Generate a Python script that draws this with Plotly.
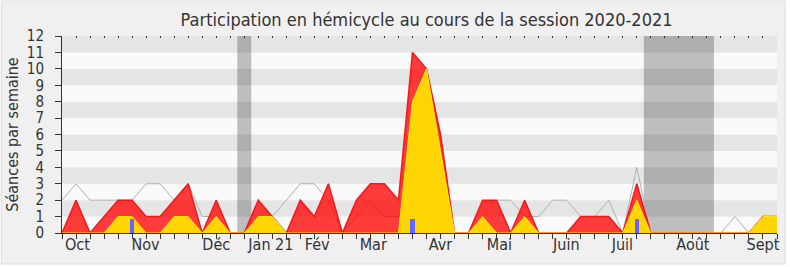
import plotly.graph_objects as go

# ---- data (one value per week, Sept 2020 -> Sept 2021) ----
weeks = list(range(52))
presences = [0, 2, 0, 1, 2, 2, 1, 1, 2, 3, 0, 2, 0, 0, 2, 1, 0, 2, 1, 3,
             0, 2, 3, 3, 2, 11, 10, 6, 0, 0, 2, 2, 0, 2, 0, 0, 0, 1, 1, 1,
             0, 3, 0, 0, 0, 0, 0, 0, 0, 0, 1, 1]
interventions = [0, 0, 0, 0, 1, 1, 0, 0, 1, 1, 0, 1, 0, 0, 1, 1, 0, 0, 0, 0,
                 0, 0, 0, 0, 0, 8, 10, 5, 0, 0, 1, 0, 0, 1, 0, 0, 0, 0, 0, 0,
                 0, 2, 0, 0, 0, 0, 0, 0, 0, 0, 1, 1]
mediane = [2, 3, 2, 2, 2, 2, 3, 3, 2, 3, 1, 1, 0, 0, 1, 1, 2, 3, 3, 2,
           0, 1, 2, 1, 1, 2, 4, 2, 0, 0, 1, 2, 2, 1, 1, 2, 2, 1, 1, 2,
           0, 4, 0, 0, 0, 0, 0, 0, 1, 0, 0, 0]
questions = [None] * 52
questions[5] = 0.86
questions[25] = 0.86
questions[41] = 0.86
vacances = [(12.5, 13.5), (41.5, 46.5)]
month_pos = [1.1, 5.96, 11.0, 14.9, 18.2, 22.2, 27.0, 31.2, 35.97, 39.97, 45.0, 50.0]
month_labels = ["Oct", "Nov", "Déc", "Jan 21", "Fév", "Mar", "Avr", "Mai",
                "Juin", "Juil", "Août", "Sept"]
y_ticks = list(range(13))

FONT = "DejaVu Sans Condensed, DejaVu Sans, sans-serif"
TXT = "#333333"

fig = go.Figure()
fig.add_trace(go.Scatter(x=weeks, y=mediane, mode="lines",
                         line=dict(color="#b0b0b0", width=1), showlegend=False,
                         hoverinfo="skip"))
fig.add_trace(go.Scatter(x=weeks, y=presences, mode="lines", fill="tozeroy",
                         fillcolor="rgba(255,0,0,0.76)",
                         line=dict(color="rgb(255,20,20)", width=1.5),
                         showlegend=False))
fig.add_trace(go.Scatter(x=weeks, y=interventions, mode="lines", fill="tozeroy",
                         fillcolor="rgba(255,222,0,0.95)",
                         line=dict(color="rgb(255,236,0)", width=1),
                         showlegend=False))
# blue bars on the overlay axis so they are drawn above the filled areas
fig.add_trace(go.Bar(x=weeks, y=questions, width=0.3, xaxis="x2",
                     marker=dict(color="rgb(100,100,255)", line=dict(width=0)),
                     showlegend=False))
fig.add_trace(go.Scatter(x=[0, 51], y=[0, 0], xaxis="x3", mode="lines",
                         line=dict(width=0), opacity=0, showlegend=False, hoverinfo="skip"))

shapes = [dict(type="rect", xref="paper", yref="paper", x0=-61/718, x1=1+8/718,
               y0=-31/197, y1=1+35/197, layer="below",
               fillcolor="#f0f0f0", line=dict(color="#dcdcdc", width=1))]
for k in range(12):
    shapes.append(dict(type="rect", xref="x domain", yref="y", x0=0, x1=1,
                       y0=k, y1=k + 1, layer="below", line=dict(width=0),
                       fillcolor="#e5e5e5" if k % 2 == 1 else "#fafafa"))
for a, b in vacances:
    shapes.append(dict(type="rect", xref="x", yref="y", x0=a, x1=b, y0=0, y1=12,
                       layer="below", line=dict(width=0),
                       fillcolor="rgba(0,0,0,0.24)"))

fig.update_layout(
    width=790, height=267,
    margin=dict(l=62, r=10, t=36, b=34),
    paper_bgcolor="white", plot_bgcolor="rgba(0,0,0,0)",
    font=dict(family=FONT, size=15, color=TXT),
    title=dict(text="Participation en hémicycle au cours de la session 2020-2021",
               x=0.54, xanchor="center", y=0.928, yanchor="middle",
               font=dict(family=FONT, size=18, color=TXT)),
    shapes=shapes,
    bargap=0,
    xaxis=dict(range=[0, 51], tickvals=weeks, showticklabels=False,
               ticks="outside", ticklen=5, tickcolor=TXT, showline=True,
               linecolor=TXT, linewidth=1, showgrid=False, zeroline=False),
    xaxis2=dict(overlaying="x", anchor="y", side="top", range=[0, 51],
                tickvals=weeks, showticklabels=False, ticks="inside", ticklen=2,
                tickcolor=TXT, showline=False, showgrid=False, zeroline=False),
    xaxis3=dict(overlaying="x", anchor="y", side="bottom", range=[0, 51],
                tickvals=month_pos, ticktext=month_labels, ticks="",
                showline=False, showgrid=False, zeroline=False,
                tickfont=dict(family=FONT, size=16, color=TXT)),
    yaxis=dict(range=[0, 12], tickvals=y_ticks, ticks="outside", ticklen=6,
               tickcolor=TXT, showline=True, linecolor=TXT, linewidth=1,
               showgrid=False, zeroline=False, ticklabelstandoff=8,
               tickfont=dict(family=FONT, size=15, color=TXT),
               title=dict(text="Séances par semaine", standoff=4,
                          font=dict(family=FONT, size=16, color=TXT))),
)

fig.write_html("out.html")
